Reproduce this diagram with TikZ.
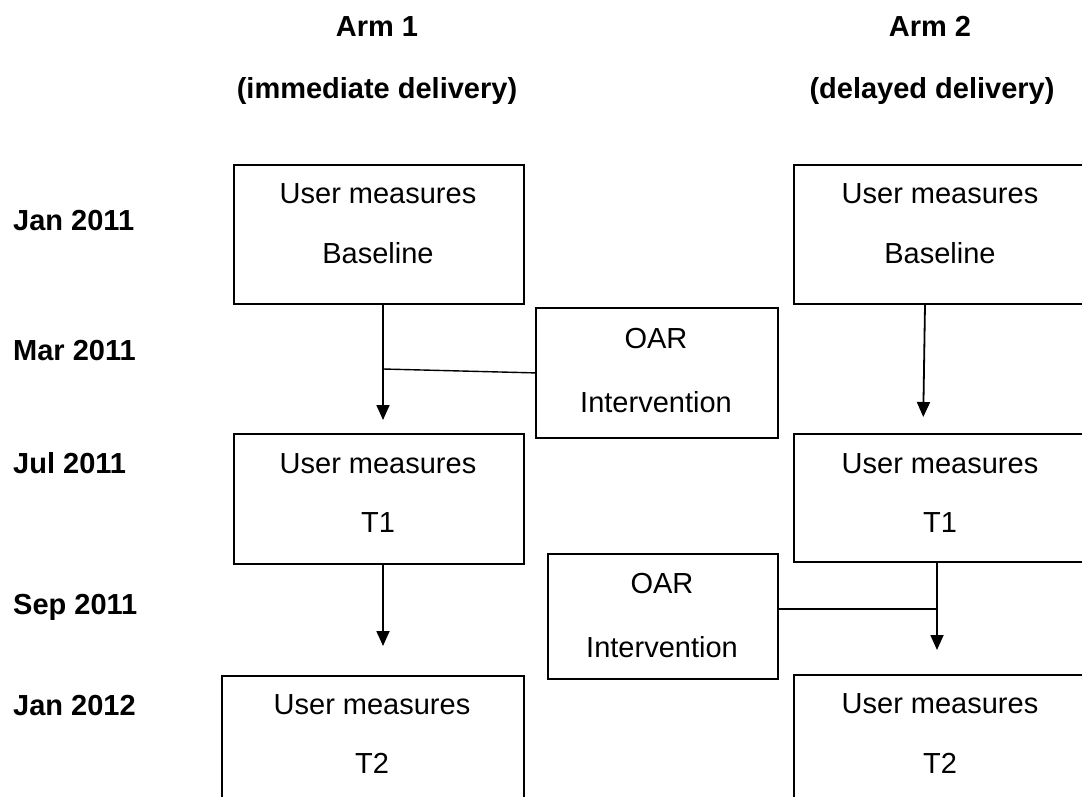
\documentclass[tikz,border=0pt]{standalone}
\usepackage{fontspec}
\setmainfont{Liberation Sans}
\usetikzlibrary{arrows.meta,calc}
\begin{document}
\begin{tikzpicture}[x=1pt,y=-1pt,
  boxshape/.style={draw, line width=1.8pt, rectangle, inner sep=0pt, anchor=north west},
  txt/.style={anchor=base, inner sep=0pt, font=\fontsize{29}{35}\selectfont},
  btxt/.style={anchor=base, inner sep=0pt, font=\fontsize{29}{35}\selectfont\bfseries},
  datelbl/.style={anchor=base west, inner sep=0pt, font=\fontsize{29}{35}\selectfont\bfseries},
  arr/.style={line width=1.8pt, -{Triangle[width=13pt,length=15pt]}},
  link/.style={line width=1.4pt}]
\useasboundingbox (0,0) rectangle (1082,797);
\fill[white] (0,0) rectangle (1082,797);
\clip (0,0) rectangle (1082,797);
% titles
\node[btxt] (t1a) at (377,37) {Arm 1};
\node[btxt] (t1b) at (377,99) {(immediate delivery)};
\node[btxt] (t2a) at (930,37) {Arm 2};
\node[btxt] (t2b) at (932,99) {(delayed delivery)};
% date labels
\node[datelbl] (d1) at (13,230) {Jan 2011};
\node[datelbl] (d2) at (13,360) {Mar 2011};
\node[datelbl] (d3) at (13,473) {Jul 2011};
\node[datelbl] (d4) at (13,614) {Sep 2011};
\node[datelbl] (d5) at (13,715) {Jan 2012};
% arm 1 boxes
\node[boxshape, minimum width=290pt, minimum height=139pt] (b1a) at (233,164) {};
\node[boxshape, minimum width=290pt, minimum height=130pt] (b2a) at (233,433) {};
\node[boxshape, minimum width=302pt, minimum height=160pt] (b3a) at (221,675) {};
% arm 2 boxes
\node[boxshape, minimum width=294pt, minimum height=139pt] (b1b) at (793,164) {};
\node[boxshape, minimum width=294pt, minimum height=128pt] (b2b) at (793,433) {};
\node[boxshape, minimum width=294pt, minimum height=160pt] (b3b) at (793,674) {};
% OAR boxes
\node[boxshape, minimum width=242pt, minimum height=130pt] (oar1) at (535,307) {};
\node[boxshape, minimum width=230pt, minimum height=125pt] (oar2) at (547,553) {};
% box texts
\node[txt] (b1a1) at (378,204) {User measures};
\node[txt] (b1a2) at (378,263) {Baseline};
\node[txt] (b2a1) at (378,473) {User measures};
\node[txt] (b2a2) at (378,532) {T1};
\node[txt] (b3a1) at (372,714) {User measures};
\node[txt] (b3a2) at (372,773) {T2};
\node[txt] (b1b1) at (940,204) {User measures};
\node[txt] (b1b2) at (940,263) {Baseline};
\node[txt] (b2b1) at (940,473) {User measures};
\node[txt] (b2b2) at (940,532) {T1};
\node[txt] (b3b1) at (940,713) {User measures};
\node[txt] (b3b2) at (940,773) {T2};
\node[txt] (o1a) at (656,348) {OAR};
\node[txt] (o1b) at (656,412) {Intervention};
\node[txt] (o2a) at (662,593) {OAR};
\node[txt] (o2b) at (662,657) {Intervention};
% connectors
\coordinate (x1) at (383,0);
\coordinate (x2a) at (925,0);
\coordinate (x2b) at (923,0);
\coordinate (x3) at (937,0);
\coordinate (j1) at (383,369);
\coordinate (j2) at (937,609);
\draw[arr, shorten >=13pt] (b1a.south -| x1) -- (b2a.north -| x1);
\draw[arr, shorten >=29pt] (b2a.south -| x1) -- (b3a.north -| x1);
\draw[arr, shorten >=16pt] (b1b.south -| x2a) -- (b2b.north -| x2b);
\draw[arr, shorten >=24pt] (b2b.south -| x3) -- (b3b.north -| x3);
\draw[link] (oar1.west) -- (j1);
\draw[link] (oar2.east |- j2) -- (j2);
\end{tikzpicture}
\end{document}
